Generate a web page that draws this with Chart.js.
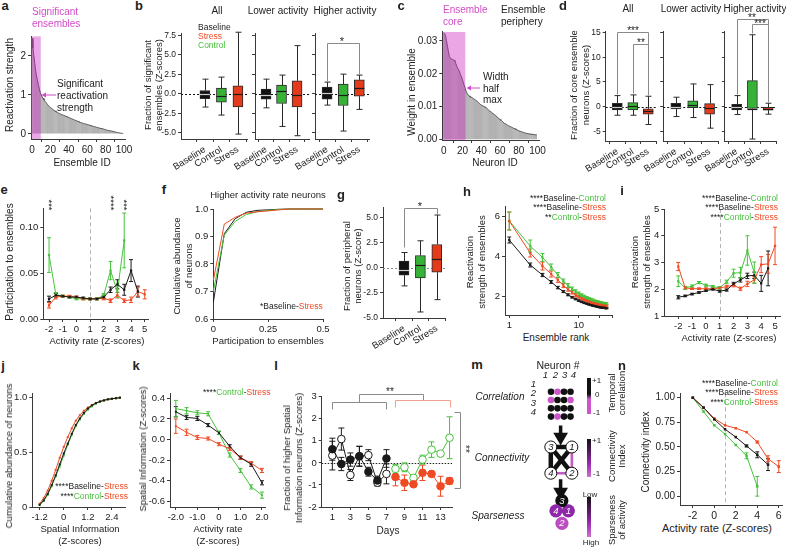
<!DOCTYPE html>
<html><head><meta charset="utf-8">
<script src="https://cdn.jsdelivr.net/npm/chart.js@4.4.1/dist/chart.umd.min.js"></script>
<style>
body{margin:0;background:#fff;}
#root{position:relative;width:786px;height:547px;overflow:hidden;background:#fff;font-family:"Liberation Sans",Arial,Helvetica,sans-serif;color:#222;}
canvas{position:absolute;}
.t{position:absolute;white-space:nowrap;}
</style></head><body><div id="root"></div>
<script>
// ================= DATA =================
// a: reactivation strength of ensembles (sorted)
const aStrength = [2.45,2.2,2.0,1.8,1.62,1.48,1.36,1.25,1.15,1.06,
1.0,0.95,0.91,0.87,0.84,0.81,0.78,0.75,0.72,0.70,
0.68,0.66,0.64,0.62,0.60,0.59,0.57,0.56,0.55,0.53,
0.52,0.51,0.50,0.49,0.48,0.47,0.46,0.45,0.44,0.43,
0.42,0.41,0.40,0.39,0.38,0.37,0.36,0.35,0.34,0.33,
0.32,0.31,0.30,0.29,0.28,0.275,0.27,0.26,0.255,0.25,
0.24,0.235,0.225,0.22,0.21,0.205,0.2,0.19,0.185,0.18,
0.17,0.165,0.16,0.15,0.145,0.14,0.135,0.13,0.12,0.115,
0.11,0.1,0.095,0.09,0.085,0.08,0.075,0.07,0.06,0.055,
0.05,0.045,0.04,0.035,0.03,0.025,0.02,0.018,0.015,0.012];
const aSignificantRange = [-0.5, 9.5];
const aTop = 2.5;
// c: neuron weights in an ensemble (sorted)
const cWeight = [.0325,.0322,.0316,.0300,.0284,.0268,.0253,.0248,.0245,.0244,
.0243,.0241,.0238,.0230,.0222,.0217,.0212,.0205,.0197,.0190,
.0182,.0172,.0163,.0155,.0146,.0140,.0136,.0133,.0130,.0129,
.0128,.0126,.0124,.0122,.0120,.0118,.0116,.0113,.0110,.0107,
.0105,.0104,.0102,.0100,.0099,.0098,.0095,.0092,.0089,.0087,
.0085,.0083,.0081,.0078,.0076,.0074,.0072,.0069,.0066,.0063,
.0061,.0059,.0056,.0054,.0051,.0049,.0048,.0046,.0044,.0042,
.0041,.0040,.0038,.0037,.0035,.0034,.0033,.0031,.0030,.0028,
.0027,.0026,.0025,.0024,.0023,.0022,.0021,.0020,.0019,.0019,
.0018,.0018,.0017,.0017,.0016,.0016,.0016,.0015,.0015,.0015];
const cCoreRange = [-0.5, 23];
const cTop = 0.0327;
// box plots: [min, q1, median, q3, max] for Baseline, Control, Stress
const boxCats = ['Baseline','Control','Stress'];
const bAll  = [[-1.7,-0.64,-0.04,0.42,1.88],[-2.73,-1.06,-0.26,0.73,2.14],[-5.17,-1.7,-0.04,1.02,7.9]];
const bLow  = [[-1.8,-0.68,-0.13,0.6,1.88],[-4.19,-1.24,0.38,1.11,2.4],[-5.38,-1.7,-0.13,1.66,6.18]];
const bHigh = [[-1.45,-0.68,0.09,0.86,1.5],[-4.78,-1.5,-0.17,1.24,2.52],[-2.0,-0.3,0.73,1.79,2.4]];
const dAll  = [[-1.76,-0.68,0,0.68,2.23],[-1.76,-0.68,0.14,0.81,2.37],[-3.65,-1.55,-0.9,-0.47,2.1]];
const dLow  = [[-2.03,-0.47,0,0.68,1.9],[-2.23,-0.2,0.34,1.15,4.6],[-4.39,-1.55,-0.34,0.61,4.46]];
const dHigh = [[-1.62,-0.68,-0.07,0.47,2.23],[-6.6,-0.4,-0.4,5.27,14.6],[-1.55,-0.74,-0.47,-0.14,0.68]];
const gBox  = [[-1.8,-0.73,-0.17,0.67,1.53],[-4.4,-1.0,0.27,1.23,2.7],[-3.17,-0.43,0.87,2.33,5.27]];
// e: participation to ensembles vs activity rate
const eX = [-2,-1.5,-1,-0.5,0,0.5,1,1.5,2,2.5,3,3.5,4,4.5,5];
const eBase = [0.022,0.026,0.025,0.024,0.024,0.023,0.022,0.022,0.024,0.032,0.038,0.032,0.053,0.030];
const eBaseErr = [0.003,0.002,0.001,0.001,0.001,0.001,0.001,0.001,0.002,0.003,0.005,0.006,0.012,0.006];
const eCtrl = [0.070,0.027,0.025,0.024,0.022,0.022,0.022,0.022,0.026,0.053,0.030,0.086];
const eCtrlErr = [0.019,0.002,0.001,0.001,0.001,0.001,0.001,0.001,0.002,0.010,0.006,0.030];
const eStress = [0.015,0.024,0.025,0.025,0.024,0.022,0.022,0.022,0.023,0.020,0.026,0.020,0.021,0.030,0.027];
const eStressErr = [0.003,0.002,0.001,0.001,0.001,0.001,0.001,0.001,0.002,0.002,0.003,0.002,0.003,0.005,0.005];
// f: cumulative abundance
const fX = [0,0.05,0.1,0.15,0.2,0.25,0.3,0.35,0.4,0.45,0.5];
const fBase = [0.66,0.91,0.965,0.988,0.995,0.997,0.999,1,1,1,1];
const fCtrl = [0.70,0.905,0.955,0.98,0.99,0.995,0.998,1,1,1,1];
const fStress = [0.74,0.945,0.97,0.985,0.99,0.993,0.997,1,1,1,1];
// h: reactivation strength vs ensemble rank
const hRank = [1,2,3,4,5,6,7,8,9,10,11,12,13,14,15,16,17,18,19,20,21,22,23,24,25];
const hBase = [4.8,3.55,3.05,2.7,2.42,2.22,2.06,1.94,1.85,1.77,1.71,1.66,1.62,1.58,1.55,1.52,1.5,1.48,1.46,1.44,1.43,1.42,1.41,1.4,1.39];
const hBaseErr = [0.15,0.1,0.08,0.07,0.06,0.05,0.05,0.04,0.04,0.04,0.04,0.04,0.03,0.03,0.03,0.03,0.03,0.03,0.03,0.03,0.03,0.03,0.03,0.03,0.03];
const hStress = [5.75,4.15,3.5,3.1,2.8,2.52,2.33,2.18,2.05,1.96,1.88,1.82,1.77,1.73,1.69,1.66,1.63,1.61,1.59,1.57,1.55,1.53,1.52,1.51,1.5];
const hStressErr = [0.45,0.2,0.2,0.15,0.12,0.1,0.09,0.08,0.08,0.07,0.07,0.06,0.06,0.06,0.05,0.05,0.05,0.05,0.05,0.05,0.05,0.05,0.05,0.05,0.05];
const hCtrl = [5.75,4.5,3.93,3.45,3.05,2.75,2.52,2.36,2.23,2.12,2.04,1.97,1.91,1.86,1.82,1.78,1.75,1.72,1.7,1.68,1.66,1.64,1.63,1.62,1.61];
const hCtrlErr = [0.45,0.3,0.2,0.15,0.12,0.1,0.1,0.09,0.08,0.08,0.07,0.07,0.06,0.06,0.06,0.06,0.05,0.05,0.05,0.05,0.05,0.05,0.05,0.05,0.05];
// i: reactivation strength vs activity rate
const iX = [-2,-1.5,-1,-0.5,0,0.5,1,1.5,2,2.5,3,3.5,4,4.5,5];
const iBase = [1.7,1.75,1.82,1.88,1.95,2.0,1.93,1.97,2.2,2.35,2.5,2.52,2.22,2.78];
const iBaseErr = [0.06,0.03,0.03,0.03,0.03,0.03,0.04,0.04,0.06,0.08,0.1,0.12,0.3,0.65];
const iStress = [2.85,2.05,2.02,2.02,2.02,2.02,2.05,2.1,2.15,2.02,2.2,2.35,2.92,2.95,3.62];
const iStressErr = [0.15,0.05,0.03,0.03,0.03,0.03,0.04,0.05,0.06,0.06,0.1,0.12,0.3,0.35,0.7];
const iCtrl = [2.3,2.05,2.12,2.25,2.15,2.1,2.05,2.28,2.6,2.62,3.45,2.62];
const iCtrlErr = [0.2,0.05,0.04,0.04,0.04,0.04,0.05,0.06,0.15,0.2,0.55,0.4];
// j: cumulative abundance vs spatial information
const jX = [-1.2,-1.0,-0.8,-0.6,-0.4,-0.2,0,0.2,0.4,0.6,0.8,1.0,1.2,1.4,1.6,1.8,2.0,2.2,2.4,2.6,2.8];
const jBase = [0.02,0.06,0.12,0.2,0.29,0.39,0.49,0.58,0.67,0.75,0.81,0.86,0.9,0.93,0.95,0.965,0.975,0.985,0.99,0.995,1.0];
const jCtrl = [0.02,0.055,0.11,0.19,0.28,0.37,0.47,0.57,0.66,0.74,0.8,0.85,0.89,0.92,0.945,0.962,0.975,0.985,0.99,0.995,1.0];
const jStress = [0.03,0.08,0.15,0.24,0.34,0.45,0.55,0.64,0.72,0.79,0.84,0.88,0.91,0.93,0.95,0.965,0.975,0.985,0.99,0.995,1.0];
// k: spatial information vs activity rate
const kX = [-2,-1.5,-1,-0.5,0,0.5,1,1.5,2];
const kBase = [0.27,0.215,0.205,0.14,0.065,-0.065,-0.176,-0.24,-0.42];
const kBaseErr = [0.05,0.02,0.02,0.015,0.015,0.015,0.015,0.02,0.02];
const kCtrl = [0.30,0.28,0.26,0.25,0.065,-0.15,-0.30,-0.46,-0.54];
const kCtrlErr = [0.08,0.03,0.02,0.02,0.015,0.02,0.02,0.02,0.03];
const kStress = [0.13,0.07,0.02,0.01,-0.045,-0.09,-0.175,-0.23,-0.30];
const kStressErr = [0.07,0.03,0.02,0.015,0.015,0.015,0.015,0.015,0.02];
// l: fraction of higher SI neurons across days
const lDays1 = [1,2,3,4,5,6,7];
const lDays2 = [8,9,10,11,12,13,14];
const lBaseA = [0.62,-0.05,0.15,0.3,-0.4,-0.8,0.2];
const lBaseAErr = [0.5,0.3,0.3,0.45,0.2,0.2,0.4];
const lBaseB = [0.33,1.08,-0.55,0.3,0.35,-0.9,-0.5];
const lBaseBErr = [0.65,0.5,0.25,0.45,0.25,0.15,0.45];
const lStress = [-0.64,-0.9,-0.97,-0.45,-0.5,-1.06,-0.82];
const lStressErr = [0.4,0.35,0.1,0.35,0.1,0.45,0.15];
const lCtrl = [-0.27,-0.2,-0.68,0.15,0.6,0.42,1.14];
const lCtrlErr = [0.2,0.2,0.1,0.2,0.35,0.1,0.95];
// m: schematic
const corrMatrix = [[1,-1,1,1],[-1,1,1,-1],[1,1,1,1],[1,-1,1,1]];
const nodeIds = [1,2,3,4];
const nodeCorner = [[1,0],[1,1],[0,0],[0,1]];   // column,row of nodes 1..4 in the square
const edges = [[3,1,1],[3,4,1],[3,2,1],[1,4,1],[1,2,-1],[4,2,-1]];
const sparseSlot = ['right','bottom','top','left']; // nodes 1..4
const sparseLevel = [0.6,0.3,1.0,0.6];
// n: connectivity index
const nX = [-2,-1,0,1,2,3,4,5,6];
const nBase = [1.0,0.9,0.78,0.68,0.6,0.51,0.42,0.32];
const nBaseErr = [0,0,0,0,0,0.01,0.03,0.06];
const nStress = [1.0,0.9,0.79,0.72,0.69,0.65,0.55,0.38,0.3];
const nStressErr = [0,0,0,0,0,0,0.01,0.03,0.06];
const nCtrl = [1.0,0.86,0.72,0.63,0.52,0.41,0.1];
const nCtrlErr = [0,0,0,0,0,0.03,0.1];

// ================= STYLE =================
const FONT = '"Liberation Sans", Arial, Helvetica, sans-serif';
const C_BASE = '#1a1a1a', C_CTRL = '#47c23c', C_STRESS = '#ef4a24';
const BOX_COL = ['#111111', '#36b336', '#e43b1c'];
const MED_COL = ['#d0d0d0', '#1a1a1a', '#1a1a1a'];
const PINK = '#d24cc9';
const AXC = '#3a3a3a';
Chart.defaults.font.family = FONT;
Chart.defaults.font.size = 9.5;
Chart.defaults.color = '#222';
Chart.defaults.animation = false;
Chart.defaults.plugins.legend.display = false;
Chart.defaults.plugins.tooltip.enabled = false;

const root = document.getElementById('root');
function T(html, x, y, o = {}) {
  const d = document.createElement('div');
  d.className = 't';
  d.innerHTML = html;
  d.style.fontSize = (o.s || 10) + 'px';
  d.style.lineHeight = o.lh ? o.lh + 'px' : (o.r ? '12px' : '1.15');
  if (o.c) d.style.color = o.c;
  if (o.b) d.style.fontWeight = 'bold';
  if (o.i) d.style.fontStyle = 'italic';
  d.style.textAlign = o.a === 'l' ? 'left' : (o.a === 'r' ? 'right' : 'center');
  d.style.left = x + 'px'; d.style.top = y + 'px';
  const tx = o.a === 'l' ? '0' : o.a === 'r' ? '-100%' : '-50%';
  d.style.transform = `translate(${tx},-50%)` + (o.r ? ` rotate(${o.r}deg)` : '');
  root.appendChild(d);
}

function lin(min, max, tv, tl, o = {}) {
  return {
    type: o.type || 'linear', min, max, reverse: !!o.reverse, display: o.display ?? true, offset: false,
    afterBuildTicks: s => { s.ticks = tv.map(v => ({ value: v })); },
    grid: { display: true, drawOnChartArea: false, drawTicks: true, tickLength: o.tl ?? 3, color: AXC, lineWidth: 1 },
    border: { display: true, color: AXC, width: 1 },
    ticks: { autoSkip: false, maxRotation: o.rot || 0, minRotation: o.rot || 0, padding: o.pad ?? 2,
      font: { size: o.fs || 9.5 }, color: '#222', callback: (v, i) => (tl[i] ?? '') }
  };
}

function deco(ex) {
  ex = ex || {};
  return {
    id: 'deco',
    beforeDatasetsDraw(ch) {
      const ctx = ch.ctx, A = ch.chartArea, xs = ch.scales.x, ys = ch.scales.y;
      (ex.refs || []).forEach(r => {
        ctx.save(); ctx.strokeStyle = r.c || '#000'; ctx.lineWidth = r.w || 1; ctx.setLineDash(r.dash || []);
        ctx.beginPath();
        if (r.x !== undefined) { const p = Math.round(xs.getPixelForValue(r.x)) + 0.5; ctx.moveTo(p, A.top); ctx.lineTo(p, A.bottom); }
        else { const p = Math.round(ys.getPixelForValue(r.y)) + 0.5; ctx.moveTo(A.left, p); ctx.lineTo(A.right, p); }
        ctx.stroke(); ctx.restore();
      });
      ch.data.datasets.forEach(ds => {
        if (ds.err) {
          ctx.save(); ctx.strokeStyle = ds.errColor || ds.borderColor; ctx.lineWidth = 1;
          const cw = ds.capW ?? 2;
          ds.data.forEach((p, j) => {
            const e = ds.err[j]; if (!e) return;
            const x = xs.getPixelForValue(p.x), y1 = ys.getPixelForValue(p.y - e), y2 = ys.getPixelForValue(p.y + e);
            ctx.beginPath(); ctx.moveTo(x, y1); ctx.lineTo(x, y2);
            ctx.moveTo(x - cw, y1); ctx.lineTo(x + cw, y1); ctx.moveTo(x - cw, y2); ctx.lineTo(x + cw, y2); ctx.stroke();
          });
          ctx.restore();
        }
        if (ds.box) {
          ctx.save(); ctx.strokeStyle = '#2a2a2a'; ctx.lineWidth = 1;
          ds.box.forEach((b, j) => {
            const x = Math.round(xs.getPixelForValue(ds.data[j].x)) + 0.5;
            const P = v => ys.getPixelForValue(v);
            ctx.beginPath();
            ctx.moveTo(x, P(b[0])); ctx.lineTo(x, P(b[1])); ctx.moveTo(x, P(b[3])); ctx.lineTo(x, P(b[4]));
            ctx.moveTo(x - 3, P(b[0])); ctx.lineTo(x + 3, P(b[0])); ctx.moveTo(x - 3, P(b[4])); ctx.lineTo(x + 3, P(b[4]));
            ctx.stroke();
          });
          ctx.restore();
        }
      });
    },
    afterDatasetsDraw(ch) {
      const ctx = ch.ctx, xs = ch.scales.x, ys = ch.scales.y;
      (ex.region || []).forEach(r => {
        ctx.save(); ctx.fillStyle = r.c;
        const x0 = xs.getPixelForValue(r.x0), x1 = xs.getPixelForValue(r.x1);
        const y0 = ys.getPixelForValue(r.y0), y1 = ys.getPixelForValue(r.y1);
        ctx.fillRect(x0, y1, x1 - x0, y0 - y1);
        ctx.restore();
      });
      ch.data.datasets.forEach(ds => {
        if (!ds.box) return;
        ds.box.forEach((b, j) => {
          const x = xs.getPixelForValue(ds.data[j].x), y = Math.round(ys.getPixelForValue(b[2])) + 0.5;
          ctx.save(); ctx.strokeStyle = ds.medColors[j]; ctx.lineWidth = 1.2;
          ctx.beginPath(); ctx.moveTo(x - 5, y); ctx.lineTo(x + 5, y); ctx.stroke(); ctx.restore();
        });
      });
      (ex.segs || []).forEach(s => {
        ctx.save(); ctx.strokeStyle = s.c || '#888'; ctx.lineWidth = s.w || 1; ctx.setLineDash(s.dash || []);
        ctx.beginPath();
        s.pts.forEach((p, k) => {
          const X = Math.round(xs.getPixelForValue(p[0])) + 0.5, Y = Math.round(ys.getPixelForValue(p[1])) + 0.5;
          k ? ctx.lineTo(X, Y) : ctx.moveTo(X, Y);
        });
        ctx.stroke(); ctx.restore();
      });
      (ex.labels || []).forEach(l => {
        ctx.save(); ctx.fillStyle = l.c || '#000'; ctx.font = (l.f || 'italic 9px') + ' ' + FONT;
        ctx.textAlign = 'center'; ctx.textBaseline = 'middle';
        ctx.fillText(l.t, xs.getPixelForValue(l.x), ys.getPixelForValue(l.y) + 0.5);
        ctx.restore();
      });
    }
  };
}

function mk(P, cfg, ex) {
  const pt = P.pt ?? 8, pr = P.pr ?? 10, yw = P.yw ?? 30, xh = P.xh ?? 16;
  const cx = Math.round(P.L - yw), cy = Math.round(P.T - pt);
  const w = Math.round(P.R + pr - cx), h = Math.round(P.B + xh - cy);
  const cv = document.createElement('canvas');
  cv.width = w; cv.height = h; cv.style.left = cx + 'px'; cv.style.top = cy + 'px';
  cv.style.width = w + 'px'; cv.style.height = h + 'px';
  root.appendChild(cv);
  const o = cfg.options;
  o.responsive = false; o.maintainAspectRatio = false; o.devicePixelRatio = 1; o.animation = false; o.events = [];
  o.layout = { padding: { top: P.T - cy, right: pr, left: (P.L - yw - cx), bottom: 0 } };
  if (o.scales.x.display !== false) o.scales.x.afterFit = s => { s.height = xh; };
  if (o.scales.y.display !== false) o.scales.y.afterFit = s => { s.width = yw; };
  cfg.plugins = [deco(ex)];
  return new Chart(cv, cfg);
}

function line(xs, ys, color, errs, o = {}) {
  return Object.assign({
    type: 'scatter', showLine: true, data: ys.map((y, i) => ({ x: xs[i], y })),
    borderColor: color, backgroundColor: color, borderWidth: 1, pointRadius: 1.6, pointStyle: 'rect',
    pointBorderWidth: 0, err: errs, tension: 0, clip: false
  }, o);
}

function boxDS(boxes) {
  return { type: 'bar', data: boxes.map((b, i) => ({ x: i, y: [b[1], b[3]] })), box: boxes,
    backgroundColor: BOX_COL, borderColor: '#2a2a2a', borderWidth: 1, borderSkipped: false,
    barThickness: 10, grouped: false, medColors: MED_COL };
}

function boxChart(P, boxes, xr, yr, yv, yl, ex) {
  return mk(P, { type: 'bar', data: { datasets: [boxDS(boxes)] },
    options: { scales: {
      x: lin(xr[0], xr[1], [0, 1, 2], boxCats, { rot: 32, fs: 9.5, tl: 3 }),
      y: lin(yr[0], yr[1], yv, yl, { fs: 8.5 }) } } }, ex);
}
function bracket(x0, x1, top, l0, l1, c) { return { pts: [[x0, l0], [x0, top], [x1, top], [x1, l1]], c: c || '#8a8a8a' }; }

// ================= PANEL a =================
mk({ L: 31, R: 125, T: 36, B: 139, yw: 25, xh: 16 }, {
  type: 'bar',
  data: { datasets: [
    { type: 'line', data: aStrength.map((v, i) => ({ x: i, y: v })), borderColor: '#505050', borderWidth: 1, pointRadius: 0, tension: 0 },
    { type: 'bar', data: aStrength.map((v, i) => ({ x: i, y: v })), backgroundColor: '#8a8a8a', barPercentage: 0.7, categoryPercentage: 1, grouped: false }
  ] },
  options: { scales: {
    x: lin(-1.1, 101, [0, 20, 40, 60, 80, 100], ['0', '20', '40', '60', '80', '100'], { fs: 10 }),
    y: lin(-0.13, 2.51, [0, 1, 2], ['0', '1', '2'], { fs: 10 }) } }
}, { region: [{ x0: aSignificantRange[0], x1: aSignificantRange[1], y0: -0.13, y1: aTop, c: 'rgba(204,44,193,0.42)' }] });

// ================= PANEL b =================
const bYv = [-5, -2.5, 0, 2.5, 5, 7.5], bYl = ['-5.0', '-2.5', '0.0', '2.5', '5.0', '7.5'];
const zeroRef = [{ y: 0, dash: [2, 2], c: '#111' }];
boxChart({ L: 181, R: 247, T: 33, B: 139, pt: 10, xh: 40 }, bAll, [-1.45, 2.55], [-5.8, 7.8], bYv, bYl, { refs: zeroRef });
boxChart({ L: 255, R: 309, T: 33, B: 139, pt: 10, xh: 40 }, bLow, [-0.71, 2.77], [-5.8, 7.8], bYv, [], { refs: zeroRef });
boxChart({ L: 315, R: 369, T: 33, B: 139, pt: 20, xh: 40 }, bHigh, [-0.75, 2.6], [-5.8, 7.8], bYv, [], {
  refs: zeroRef, segs: [bracket(0, 2, 6.57, 1.62, 2.55)] });

// ================= PANEL c =================
mk({ L: 442.3, R: 539, T: 30.8, B: 139.5, yw: 30, xh: 16 }, {
  type: 'bar',
  data: { datasets: [
    { type: 'line', data: cWeight.map((v, i) => ({ x: i, y: v })), borderColor: '#505050', borderWidth: 1, pointRadius: 0, tension: 0 },
    { type: 'bar', data: cWeight.map((v, i) => ({ x: i, y: v })), backgroundColor: '#8a8a8a', barPercentage: 0.7, categoryPercentage: 1, grouped: false }
  ] },
  options: { scales: {
    x: lin(-1.5, 101.5, [0, 20, 40, 60, 80, 100], ['0', '20', '40', '60', '80', '100'], { fs: 10 }),
    y: lin(-0.0001, 0.033, [0, 0.01, 0.02, 0.03], ['0.00', '0.01', '0.02', '0.03'], { fs: 10 }) } }
}, { region: [{ x0: cCoreRange[0], x1: cCoreRange[1], y0: -0.0001, y1: cTop, c: 'rgba(204,44,193,0.42)' }] });

// ================= PANEL d =================
const dYv = [-5, 0, 5, 10, 15], dYl = ['-5', '0', '5', '10', '15'];
boxChart({ L: 605.7, R: 656.1, T: 31.8, B: 141.2, pt: 12, xh: 40 }, dAll, [-0.75, 2.5], [-7, 15.2], dYv, dYl, {
  refs: zeroRef, segs: [bracket(0, 2, 15.1, 2.6, 12.65), bracket(1, 2, 12.65, 2.7, 2.4)] });
boxChart({ L: 663.2, R: 717.5, T: 31.8, B: 141.2, pt: 12, xh: 40 }, dLow, [-0.75, 2.5], [-7, 15.2], dYv, [], { refs: zeroRef });
boxChart({ L: 724.85, R: 776.2, T: 31.8, B: 141.2, pt: 24, xh: 40, pr: 9 }, dHigh, [-0.75, 2.5], [-7, 15.2], dYv, [], {
  refs: zeroRef, segs: [bracket(0, 2, 17.8, 2.6, 16.7), bracket(1, 2, 16.7, 14.9, 1.0)] });

// ================= PANEL e =================
mk({ L: 43.3, R: 148, T: 208.3, B: 319 }, {
  type: 'scatter',
  data: { datasets: [
    line(eX, eBase, C_BASE, eBaseErr),
    line(eX, eStress, C_STRESS, eStressErr),
    line(eX, eCtrl, C_CTRL, eCtrlErr)
  ] },
  options: { scales: {
    x: lin(-2.42, 5.24, [-2, -1, 0, 1, 2, 3, 4, 5], ['-2', '-1', '0', '1', '2', '3', '4', '5']),
    y: lin(0, 0.1212, [0, 0.05, 0.1], ['0.00', '0.05', '0.10']) } }
}, { refs: [{ x: 1, dash: [4, 3], c: '#b5b5b5' }] });

// ================= PANEL f =================
mk({ L: 213.3, R: 322.7, T: 209, B: 319 }, {
  type: 'scatter',
  data: { datasets: [
    line(fX, fStress, C_STRESS, null, { pointRadius: 0 }),
    line(fX, fCtrl, C_CTRL, null, { pointRadius: 0 }),
    line(fX, fBase, C_BASE, null, { pointRadius: 0 })
  ] },
  options: { scales: {
    x: lin(0, 0.5, [0, 0.25, 0.5], ['0', '0.25', '0.5']),
    y: lin(0.6, 1.0, [0.6, 0.7, 0.8, 0.9, 1.0], ['0.6', '0.7', '0.8', '0.9', '1.0']) } }
});

// ================= PANEL g =================
boxChart({ L: 383, R: 445, T: 207.7, B: 317.7, pt: 10, xh: 40 }, gBox, [-1.28, 2.5], [-5, 6],
  [-5, -2.5, 0, 2.5, 5], ['-5.0', '-2.5', '0.0', '2.5', '5.0'], {
  refs: [{ y: 0, dash: [2, 2], c: '#888' }], segs: [bracket(0, 2, 5.94, 2.1, 5.37)] });

// ================= PANEL h =================
mk({ L: 505, R: 612.3, T: 206, B: 315 }, {
  type: 'scatter',
  data: { datasets: [
    line(hRank, hBase, C_BASE, hBaseErr),
    line(hRank, hStress, C_STRESS, hStressErr),
    line(hRank, hCtrl, C_CTRL, hCtrlErr)
  ] },
  options: { scales: {
    x: lin(0.868, 30, [1, 10, 20, 30], ['1', '10', '', ''], { type: 'logarithmic' }),
    y: lin(1.05, 6.5, [2, 4, 6], ['2', '4', '6']) } }
});

// ================= PANEL i =================
mk({ L: 664.3, R: 780, T: 209, B: 316, pr: 5 }, {
  type: 'scatter',
  data: { datasets: [
    line(iX, iBase, C_BASE, iBaseErr),
    line(iX, iStress, C_STRESS, iStressErr),
    line(iX, iCtrl, C_CTRL, iCtrlErr)
  ] },
  options: { scales: {
    x: lin(-3.01, 5.36, [-2, -1, 0, 1, 2, 3, 4, 5], ['-2', '-1', '0', '1', '2', '3', '4', '5']),
    y: lin(1, 5, [1, 2, 3, 4, 5], ['1', '2', '3', '4', '5']) } }
}, { refs: [{ x: 1, dash: [4, 3], c: '#b5b5b5' }] });

// ================= PANEL j =================
mk({ L: 32.3, R: 125, T: 393.3, B: 506.7 }, {
  type: 'scatter',
  data: { datasets: [
    line(jX, jBase, C_BASE, null, { pointRadius: 1.4 }),
    line(jX, jCtrl, C_CTRL, null, { pointRadius: 1.4 }),
    line(jX, jStress, C_STRESS, null, { pointRadius: 1.4 })
  ] },
  options: { scales: {
    x: lin(-1.565, 3.05, [-1.2, 0, 1.2, 2.4], ['-1.2', '0', '1.2', '2.4']),
    y: lin(0, 1.04, [0, 0.5, 1], ['0', '0.5', '1.0']) } }
});

// ================= PANEL k =================
mk({ L: 170, R: 265, T: 393.2, B: 506.7 }, {
  type: 'scatter',
  data: { datasets: [
    line(kX, kBase, C_BASE, kBaseErr, { pointRadius: 1.3 }),
    line(kX, kStress, C_STRESS, kStressErr, { pointRadius: 1.3 }),
    line(kX, kCtrl, C_CTRL, kCtrlErr, { pointRadius: 1.3 })
  ] },
  options: { scales: {
    x: lin(-2.27, 2.14, [-2, -1, 0, 1, 2], ['-2.0', '-1.0', '0', '1.0', '2.0']),
    y: lin(-0.655, 0.45, [-0.6, -0.4, -0.2, 0, 0.2, 0.4], ['-0.6', '-0.4', '-0.2', '0.0', '0.2', '0.4']) } }
});

// ================= PANEL l =================
mk({ L: 321.7, R: 451.7, T: 396.7, B: 506.7, pt: 14, pr: 22 }, {
  type: 'scatter',
  data: { datasets: [
    line(lDays1, lBaseA, C_BASE, lBaseAErr, { pointStyle: 'circle', pointRadius: 3.8, pointBorderWidth: 1, capW: 3 }),
    line(lDays1, lBaseB, C_BASE, lBaseBErr, { pointStyle: 'circle', pointRadius: 3.8, pointBorderWidth: 1, backgroundColor: '#fff', capW: 3 }),
    line(lDays2, lStress, C_STRESS, lStressErr, { pointStyle: 'circle', pointRadius: 3.8, pointBorderWidth: 1, capW: 3 }),
    line(lDays2, lCtrl, C_CTRL, lCtrlErr, { pointStyle: 'circle', pointRadius: 3.8, pointBorderWidth: 1, backgroundColor: '#fff', capW: 3 })
  ] },
  options: { scales: {
    x: lin(-0.18, 14.27, [1, 3, 5, 7, 9, 11, 13], ['1', '3', '5', '7', '9', '11', '13']),
    y: lin(-2, 3, [-2, -1, 0, 1, 2, 3], ['-2', '-1', '0', '1', '2', '3']) } }
}, {
  refs: [{ y: 0, dash: [1.5, 1.5], c: '#222' }],
  segs: [
    bracket(1, 7, 2.77, 2.44, 2.44, '#8a8a8a'),
    { pts: [[4, 2.77], [4, 3.12], [11, 3.12], [11, 2.85]], c: '#8a8a8a' },
    bracket(8, 14, 2.85, 2.55, 2.55, '#f2a091'),
    { pts: [[14.44, 2.32], [15.11, 2.32], [15.11, -1.14], [14.44, -1.14]], c: '#8a8a8a' }
  ] });

// ================= PANEL m (schematic) =================
(function () {
  const CX0 = 0.97, CX1 = 4.21, CY0 = 7.67, CY1 = 10.84;
  const slot = { top: [2.67, 14.16], left: [1.76, 15.38], right: [3.67, 15.38], bottom: [2.68, 16.89] };
  const lvlCol = v => v >= 0.9 ? '#111111' : (v >= 0.5 ? '#8f28a8' : '#bb4fc0');
  const dots = [], dotCol = [];
  corrMatrix.forEach((row, r) => row.forEach((v, c) => { dots.push({ x: c + 1, y: r + 1 }); dotCol.push(v > 0 ? '#111' : '#cc55cc'); }));
  const nodePos = id => { const k = nodeIds.indexOf(id); return { x: nodeCorner[k][0] ? CX1 : CX0, y: nodeCorner[k][1] ? CY1 : CY0 }; };
  const ds = [];
  edges.forEach(e => ds.push({ type: 'scatter', showLine: true, data: [nodePos(e[0]), nodePos(e[1])], borderColor: e[2] > 0 ? '#111' : '#c55bc6',
    borderWidth: e[2] > 0 ? 4.5 : 2.6, pointRadius: 0, clip: false, order: 3 }));
  ds.push({ type: 'scatter', data: nodeIds.map(nodePos), pointRadius: 6, backgroundColor: '#fff', borderColor: '#111', borderWidth: 1, clip: false, order: 1 });
  ds.push({ type: 'scatter', data: dots, pointRadius: 3.3, backgroundColor: dotCol, borderWidth: 0, clip: false, order: 1 });
  const sp = nodeIds.map((id, k) => ({ x: slot[sparseSlot[k]][0], y: slot[sparseSlot[k]][1] }));
  ds.push({ type: 'scatter', data: sp, pointRadius: 6.6, backgroundColor: sparseLevel.map(lvlCol), borderWidth: 0, clip: false, order: 1 });
  const arrows = [[5.08, 6.45], [11.56, 13.1]];
  arrows.forEach(a => ds.push({ type: 'scatter', showLine: true, data: [{ x: 2.48, y: a[0] }, { x: 2.48, y: a[1] }],
    borderColor: '#111', backgroundColor: '#111', borderWidth: 3.5, pointStyle: 'triangle', pointRadius: [0, 5], rotation: 180, clip: false, order: 1 }));
  const labels = nodeIds.map(id => ({ t: String(id), x: nodePos(id).x, y: nodePos(id).y, c: '#111', f: 'italic 9.5px' }))
    .concat(nodeIds.map((id, k) => ({ t: String(id), x: sp[k].x, y: sp[k].y, c: '#fff', f: 'italic 9.5px' })));
  mk({ L: 536.05, R: 591.55, T: 374.75, B: 541.25, yw: 0, xh: 0, pt: 0, pr: 0 }, {
    type: 'scatter', data: { datasets: ds },
    options: { scales: { x: Object.assign(lin(0, 6, [], []), { display: false }), y: Object.assign(lin(0, 18, [], [], { reverse: true }), { display: false }) } }
  }, { labels });
})();

// ================= PANEL n =================
mk({ L: 680, R: 781.7, T: 393.3, B: 505, pr: 4 }, {
  type: 'scatter',
  data: { datasets: [
    line(nX, nBase, C_BASE, nBaseErr, { pointRadius: 1.8 }),
    line(nX, nStress, C_STRESS, nStressErr, { pointRadius: 1.8 }),
    line(nX, nCtrl, C_CTRL, nCtrlErr, { pointRadius: 1.8 })
  ] },
  options: { scales: {
    x: lin(-3.19, 6.3, [-2, 0, 2, 4, 6], ['-2', '0', '2', '4', '6'], { fs: 10.5 }),
    y: lin(-0.09, 1.045, [0, 0.25, 0.5, 0.75, 1], ['0.00', '0.25', '0.50', '0.75', '1.00'], { fs: 10 }) } }
}, { refs: [{ x: 1, dash: [4, 3], c: '#b5b5b5' }] });

// ================= TEXT =================
const G = s => `<span style="color:${C_CTRL}">${s}</span>`, R = s => `<span style="color:${C_STRESS}">${s}</span>`;
const LB = { s: 13, b: 1 };
T('a', 5, 6, LB); T('b', 139, 6, LB); T('c', 401, 6, LB); T('d', 563, 6, LB);
T('e', 4, 190, LB); T('f', 164, 190, LB); T('g', 341, 195, LB); T('h', 467, 192, LB); T('i', 622, 191, LB);
T('j', 3, 366, LB); T('k', 136, 366, LB); T('l', 276, 366, LB); T('m', 477, 365, LB); T('n', 622, 366, LB);
// a
T('Significant<br>ensembles', 32, 17, { a: 'l', c: PINK, s: 10, lh: 11.5 });
T('Reactivation strength', 10, 85, { r: -90, s: 10 });
T('Significant<br>reactivation<br>strength', 57, 96, { a: 'l', s: 10, lh: 12 });
T('Ensemble ID', 82, 163, { s: 10 });
// b
T('Fraction of significant<br>ensembles (Z-scores)', 153, 85, { r: -90, s: 9.5, lh: 11 });
T('All', 217, 11); T('Lower activity', 278, 11); T('Higher activity', 345, 11);
T('Baseline', 198, 28, { a: 'l', s: 8.5 }); T('Stress', 198, 37, { a: 'l', s: 8.5, c: C_STRESS }); T('Control', 198, 46, { a: 'l', s: 8.5, c: C_CTRL });
T('*', 342, 41, { s: 11 });
// c
T('Ensemble<br>core', 443, 16, { a: 'l', c: PINK, s: 10, lh: 12 });
T('Ensemble<br>periphery', 501, 16, { a: 'l', s: 10, lh: 12 });
T('Width<br>half<br>max', 483, 88, { a: 'l', s: 10, lh: 11.5 });
T('Weight in ensemble', 412, 92, { r: -90, s: 10 });
T('Neuron ID', 495, 163, { s: 10 });
// d
T('Fraction of core ensemble<br>neurons (Z-scores)', 580, 85, { r: -90, s: 9.5, lh: 12 });
T('All', 628, 9); T('Lower activity', 691, 9); T('Higher activity', 755, 9);
T('***', 633, 31, { s: 10 }); T('**', 641, 43, { s: 10 }); T('**', 752, 18, { s: 10 }); T('***', 760, 24, { s: 10 });
// e
T('Participation to ensembles', 10, 262, { r: -90, s: 10 });
T('***', 49, 205, { r: 90, s: 9.5 }); T('****', 111, 203, { r: 90, s: 9.5 }); T('***', 124, 205, { r: 90, s: 9.5 });
T('Activity rate (Z-scores)', 97, 341, { s: 9.5 });
// f
T('Higher activity rate neurons', 268, 195, { s: 9.5 });
T('Cumulative abundance<br>of neurons', 183, 266, { r: -90, s: 9.5, lh: 12 });
T('*Baseline-' + R('Stress'), 260, 307, { a: 'l', s: 8.5 });
T('Participation to ensembles', 268, 341, { s: 9.5 });
// g
T('Fraction of peripheral<br>neurons (Z-score)', 352, 266, { r: -90, s: 9.5, lh: 11 });
T('*', 420, 206, { s: 11 });
// h
T('Reactivation<br>strength of ensembles', 476, 262, { r: -90, s: 9.5, lh: 12 });
T('****Baseline-' + G('Control'), 606, 199, { a: 'r', s: 8.5 });
T('****Baseline-' + R('Stress'), 606, 208.3, { a: 'r', s: 8.5 });
T('**' + G('Control') + '-' + R('Stress'), 606, 217.7, { a: 'r', s: 8.5 });
T('Ensemble rank', 556, 338, { s: 10 });
// i
T('Reactivation<br>strength of ensembles', 641, 262, { r: -90, s: 9.5, lh: 12 });
T('****Baseline-' + G('Control'), 778, 199, { a: 'r', s: 8.5 });
T('****Baseline-' + R('Stress'), 778, 208.3, { a: 'r', s: 8.5 });
T('****' + G('Control') + '-' + R('Stress'), 778, 217.7, { a: 'r', s: 8.5 });
T('Activity rate (Z-scores)', 729, 338, { s: 9.5 });
// j
T('Cumulative abundance of neurons', 9, 456, { r: -90, s: 9.5 });
T('****Baseline-' + R('Stress'), 128, 487.3, { a: 'r', s: 8.5 });
T('****' + G('Control') + '-' + R('Stress'), 128, 496.7, { a: 'r', s: 8.5 });
T('Spatial Information<br>(Z-scores)', 80, 535, { s: 9.5, lh: 12 });
// k
T('Spatial Information (Z-scores)', 143, 449, { r: -90, s: 9.5 });
T('****' + G('Control') + '-' + R('Stress'), 203, 393.3, { a: 'l', s: 8.5 });
T('Activity rate<br>(Z-scores)', 218, 535, { s: 9.5, lh: 12 });
// l
T('Fraction of higher Spatial<br>Information neurons (Z-scores)', 293, 458, { r: -90, s: 9.5, lh: 12 });
T('**', 390, 392, { s: 10 });
T('**', 465, 449, { r: 90, s: 10 });
T('Days', 388, 531, { s: 10 });
// m
T('Neuron #', 558, 365, { s: 10.5 });
['1', '2', '3', '4'].forEach((s, k) => T(s, [545.3, 555.3, 564.6, 573.5][k], 375, { i: 1, s: 9.5 }));
['1', '2', '3', '4'].forEach((s, k) => T(s, 533.3, [384, 393.3, 402.6, 411.8][k], { i: 1, s: 9.5 }));
T('Correlation', 500, 397, { i: 1, s: 10 });
T('Connectivity', 502, 458, { i: 1, s: 10 });
T('Sparseness', 498, 516, { i: 1, s: 10 });
function bar(x, y, w, h, bg) { const d = document.createElement('div'); d.style.cssText = `position:absolute;left:${x}px;top:${y}px;width:${w}px;height:${h}px;background:${bg}`; root.appendChild(d); }
bar(587, 378, 4, 36, 'linear-gradient(#111 0%, #111 45%, #cc55cc 58%, #cc55cc 100%)');
bar(587, 439, 4, 38, 'linear-gradient(#111 0%, #5a1a66 35%, #9b2bb0 65%, #d070d0 100%)');
bar(587, 497, 4, 40, 'linear-gradient(#111 0%, #5a1a66 35%, #9b2bb0 65%, #d070d0 100%)');
T('+1', 592, 381, { a: 'l', s: 8 }); T('0', 595, 394.5, { a: 'l', s: 8 }); T('-1', 593, 412.5, { a: 'l', s: 8 });
T('Temporal<br>correlation', 617, 393, { r: -90, s: 9.5, lh: 10 });
T('+1', 592, 441, { a: 'l', s: 8 }); T('-1', 593, 474, { a: 'l', s: 8 });
T('Connectivity<br>Index', 617, 456, { r: -90, s: 9.5, lh: 10 });
T('Low', 590, 495, { s: 8 }); T('High', 591, 543, { s: 8 });
T('Sparseness<br>of activity', 617, 520, { r: -90, s: 9.5, lh: 10 });
// n
T('Connectivity index', 646, 452, { r: -90, s: 10 });
T('****Baseline-' + G('Control'), 778, 384, { a: 'r', s: 8.5 });
T('****Baseline-' + R('Stress'), 778, 393.3, { a: 'r', s: 8.5 });
T('****' + G('Control') + '-' + R('Stress'), 778, 402.7, { a: 'r', s: 8.5 });
T('Activity rate (Z-scores)', 717, 528, { s: 11 });

// arrows in a and c
const svgNS = 'http://www.w3.org/2000/svg';
const svg = document.createElementNS(svgNS, 'svg');
svg.setAttribute('width', '786'); svg.setAttribute('height', '547');
svg.style.cssText = 'position:absolute;left:0;top:0;pointer-events:none';
svg.innerHTML = `<line x1="56" y1="95" x2="45" y2="95" stroke="${PINK}" stroke-width="1"/><polygon points="41.5,95 46,92.6 46,97.4" fill="${PINK}"/>
<line x1="480" y1="88" x2="470" y2="88" stroke="${PINK}" stroke-width="1"/><polygon points="466.5,88 471,85.6 471,90.4" fill="${PINK}"/>`;
root.appendChild(svg);
</script></body></html>
